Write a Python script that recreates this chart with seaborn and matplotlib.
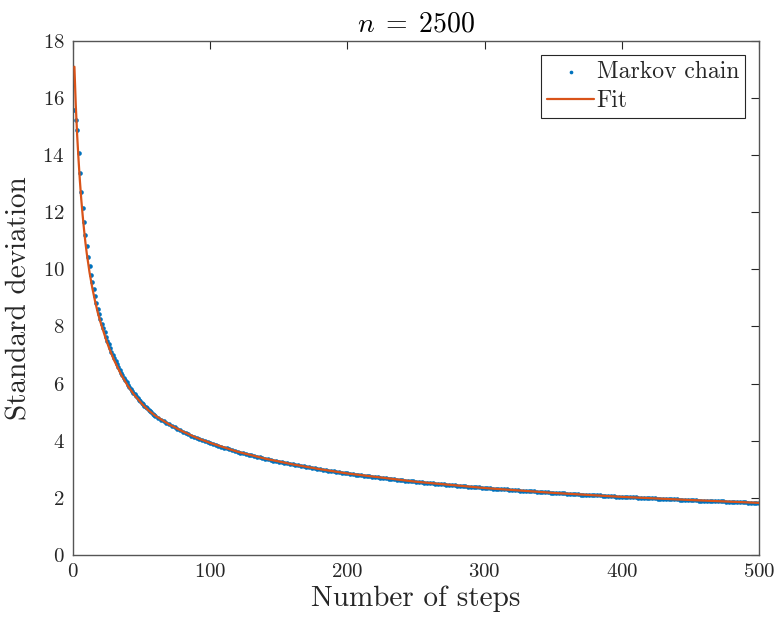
import matplotlib
matplotlib.use("Agg")
import matplotlib.pyplot as plt
import seaborn as sns

# ---------------- data ----------------
chain_steps = list(range(1, 61)) + list(range(62, 501, 2))
chain_sd = [
    15.58, 15.25, 14.88, 14.09, 13.36, 12.72, 12.16, 11.65, 11.22, 10.81,
    10.45, 10.11, 9.81, 9.56, 9.30, 9.06, 8.83, 8.62, 8.44, 8.26,
    8.10, 7.95, 7.81, 7.64, 7.50, 7.37, 7.24, 7.12, 7.00, 6.89,
    6.78, 6.67, 6.57, 6.47, 6.38, 6.29, 6.20, 6.12, 6.04, 5.96,
    5.89, 5.82, 5.75, 5.68, 5.62, 5.56, 5.50, 5.44, 5.38, 5.33,
    5.28, 5.23, 5.18, 5.13, 5.08, 5.04, 4.99, 4.95, 4.91, 4.87,
    # even steps 62..500
    4.80, 4.74, 4.68, 4.63, 4.57, 4.52, 4.47, 4.42, 4.37, 4.32,
    4.27, 4.23, 4.18, 4.14, 4.10, 4.06, 4.03, 3.99, 3.96, 3.92,
    3.89, 3.86, 3.82, 3.79, 3.76, 3.73, 3.70, 3.67, 3.64, 3.61,
    3.58, 3.56, 3.53, 3.51, 3.48, 3.46, 3.44, 3.41, 3.39, 3.37,
    3.35, 3.33, 3.30, 3.28, 3.26, 3.24, 3.22, 3.21, 3.19, 3.17,
    3.15, 3.13, 3.12, 3.10, 3.08, 3.06, 3.05, 3.03, 3.02, 3.00,
    2.98, 2.97, 2.95, 2.94, 2.92, 2.91, 2.89, 2.88, 2.86, 2.85,
    2.84, 2.82, 2.81, 2.80, 2.78, 2.77, 2.76, 2.75, 2.73, 2.72,
    2.71, 2.70, 2.69, 2.68, 2.67, 2.66, 2.64, 2.63, 2.62, 2.61,
    2.60, 2.59, 2.58, 2.57, 2.56, 2.55, 2.54, 2.53, 2.52, 2.51,
    2.50, 2.49, 2.48, 2.48, 2.47, 2.46, 2.45, 2.44, 2.43, 2.42,
    2.41, 2.41, 2.40, 2.39, 2.38, 2.37, 2.36, 2.36, 2.35, 2.34,
    2.33, 2.33, 2.32, 2.31, 2.31, 2.30, 2.29, 2.29, 2.28, 2.27,
    2.27, 2.26, 2.25, 2.25, 2.24, 2.23, 2.23, 2.22, 2.21, 2.20,
    2.20, 2.19, 2.19, 2.18, 2.17, 2.17, 2.16, 2.15, 2.15, 2.14,
    2.14, 2.13, 2.12, 2.12, 2.11, 2.11, 2.10, 2.10, 2.09, 2.09,
    2.08, 2.08, 2.07, 2.07, 2.06, 2.06, 2.05, 2.04, 2.04, 2.03,
    2.03, 2.02, 2.02, 2.01, 2.01, 2.00, 2.00, 1.99, 1.99, 1.99,
    1.98, 1.98, 1.97, 1.97, 1.96, 1.96, 1.95, 1.95, 1.94, 1.94,
    1.93, 1.93, 1.93, 1.92, 1.92, 1.91, 1.91, 1.90, 1.90, 1.90,
    1.89, 1.89, 1.88, 1.88, 1.88, 1.87, 1.87, 1.86, 1.86, 1.86,
    1.85, 1.85, 1.84, 1.84, 1.84, 1.83, 1.83, 1.82, 1.82, 1.82,
]

fit_steps = [1, 2, 3, 4, 5, 6, 7, 8, 9, 10, 12, 14, 16, 18, 20,
             22, 24, 26, 28, 30, 35, 40, 45, 50, 55, 60, 70, 80, 90, 100,
             120, 140, 160, 180, 200, 250, 300, 350, 400, 450, 500]
fit_sd = [17.10, 15.75, 14.70, 13.85, 13.10, 12.45, 11.90, 11.40, 10.95, 10.56,
          9.90, 9.36, 8.90, 8.49, 8.15,
          7.85, 7.55, 7.28, 7.04, 6.81, 6.32, 5.91, 5.58, 5.30, 5.06, 4.87,
          4.57, 4.32, 4.10, 3.92, 3.61, 3.37, 3.17, 3.00, 2.85,
          2.56, 2.34, 2.17, 2.03, 1.92, 1.82]

title_text = r"$n\;=\;2500$"
x_label = "Number of steps"
y_label = "Standard deviation"
x_ticks = [0, 100, 200, 300, 400, 500]
y_ticks = [0, 2, 4, 6, 8, 10, 12, 14, 16, 18]

# ---------------- style ----------------
sns.set_theme(style="white")
plt.rcParams["font.family"] = ["cmr10", "DejaVu Serif"]
plt.rcParams["mathtext.fontset"] = "cm"
plt.rcParams["axes.formatter.use_mathtext"] = True

BLUE = "#0072BD"
ORANGE = "#D95319"
AXC = "#262626"

fig = plt.figure(figsize=(7.77, 6.22), dpi=100)
ax = fig.add_axes([0.094, 0.108, 0.883, 0.826])

sns.scatterplot(x=chain_steps, y=chain_sd, color=BLUE, s=11, linewidth=0,
                marker="o", label="Markov chain", ax=ax, zorder=2)
sns.lineplot(x=fit_steps, y=fit_sd, color=ORANGE, linewidth=1.6,
             label="Fit", ax=ax, zorder=3)

ax.set_xlim(0, 500)
ax.set_ylim(0, 18)
ax.set_xticks(x_ticks)
ax.set_yticks(y_ticks)
ax.tick_params(direction="in", top=True, right=True, length=6, width=0.8,
               color=AXC, labelcolor=AXC, labelsize=15, pad=6)
for sp in ax.spines.values():
    sp.set_visible(True)
    sp.set_color("#555555")
    sp.set_linewidth(1.0)

ax.set_title(title_text, fontsize=20, color="black", pad=7)
ax.set_xlabel(x_label, fontsize=21, color=AXC, labelpad=3)
ax.set_ylabel(y_label, fontsize=21, color=AXC, labelpad=7)

leg = ax.legend(loc="upper right", fontsize=17, frameon=True, fancybox=False,
                framealpha=1, edgecolor=AXC, handlelength=2.0,
                handletextpad=0.1, borderpad=0.25, labelspacing=0.3,
                borderaxespad=0.6, markerscale=0.8)
leg.get_frame().set_linewidth(0.8)

fig.savefig("out.png", dpi=100)
